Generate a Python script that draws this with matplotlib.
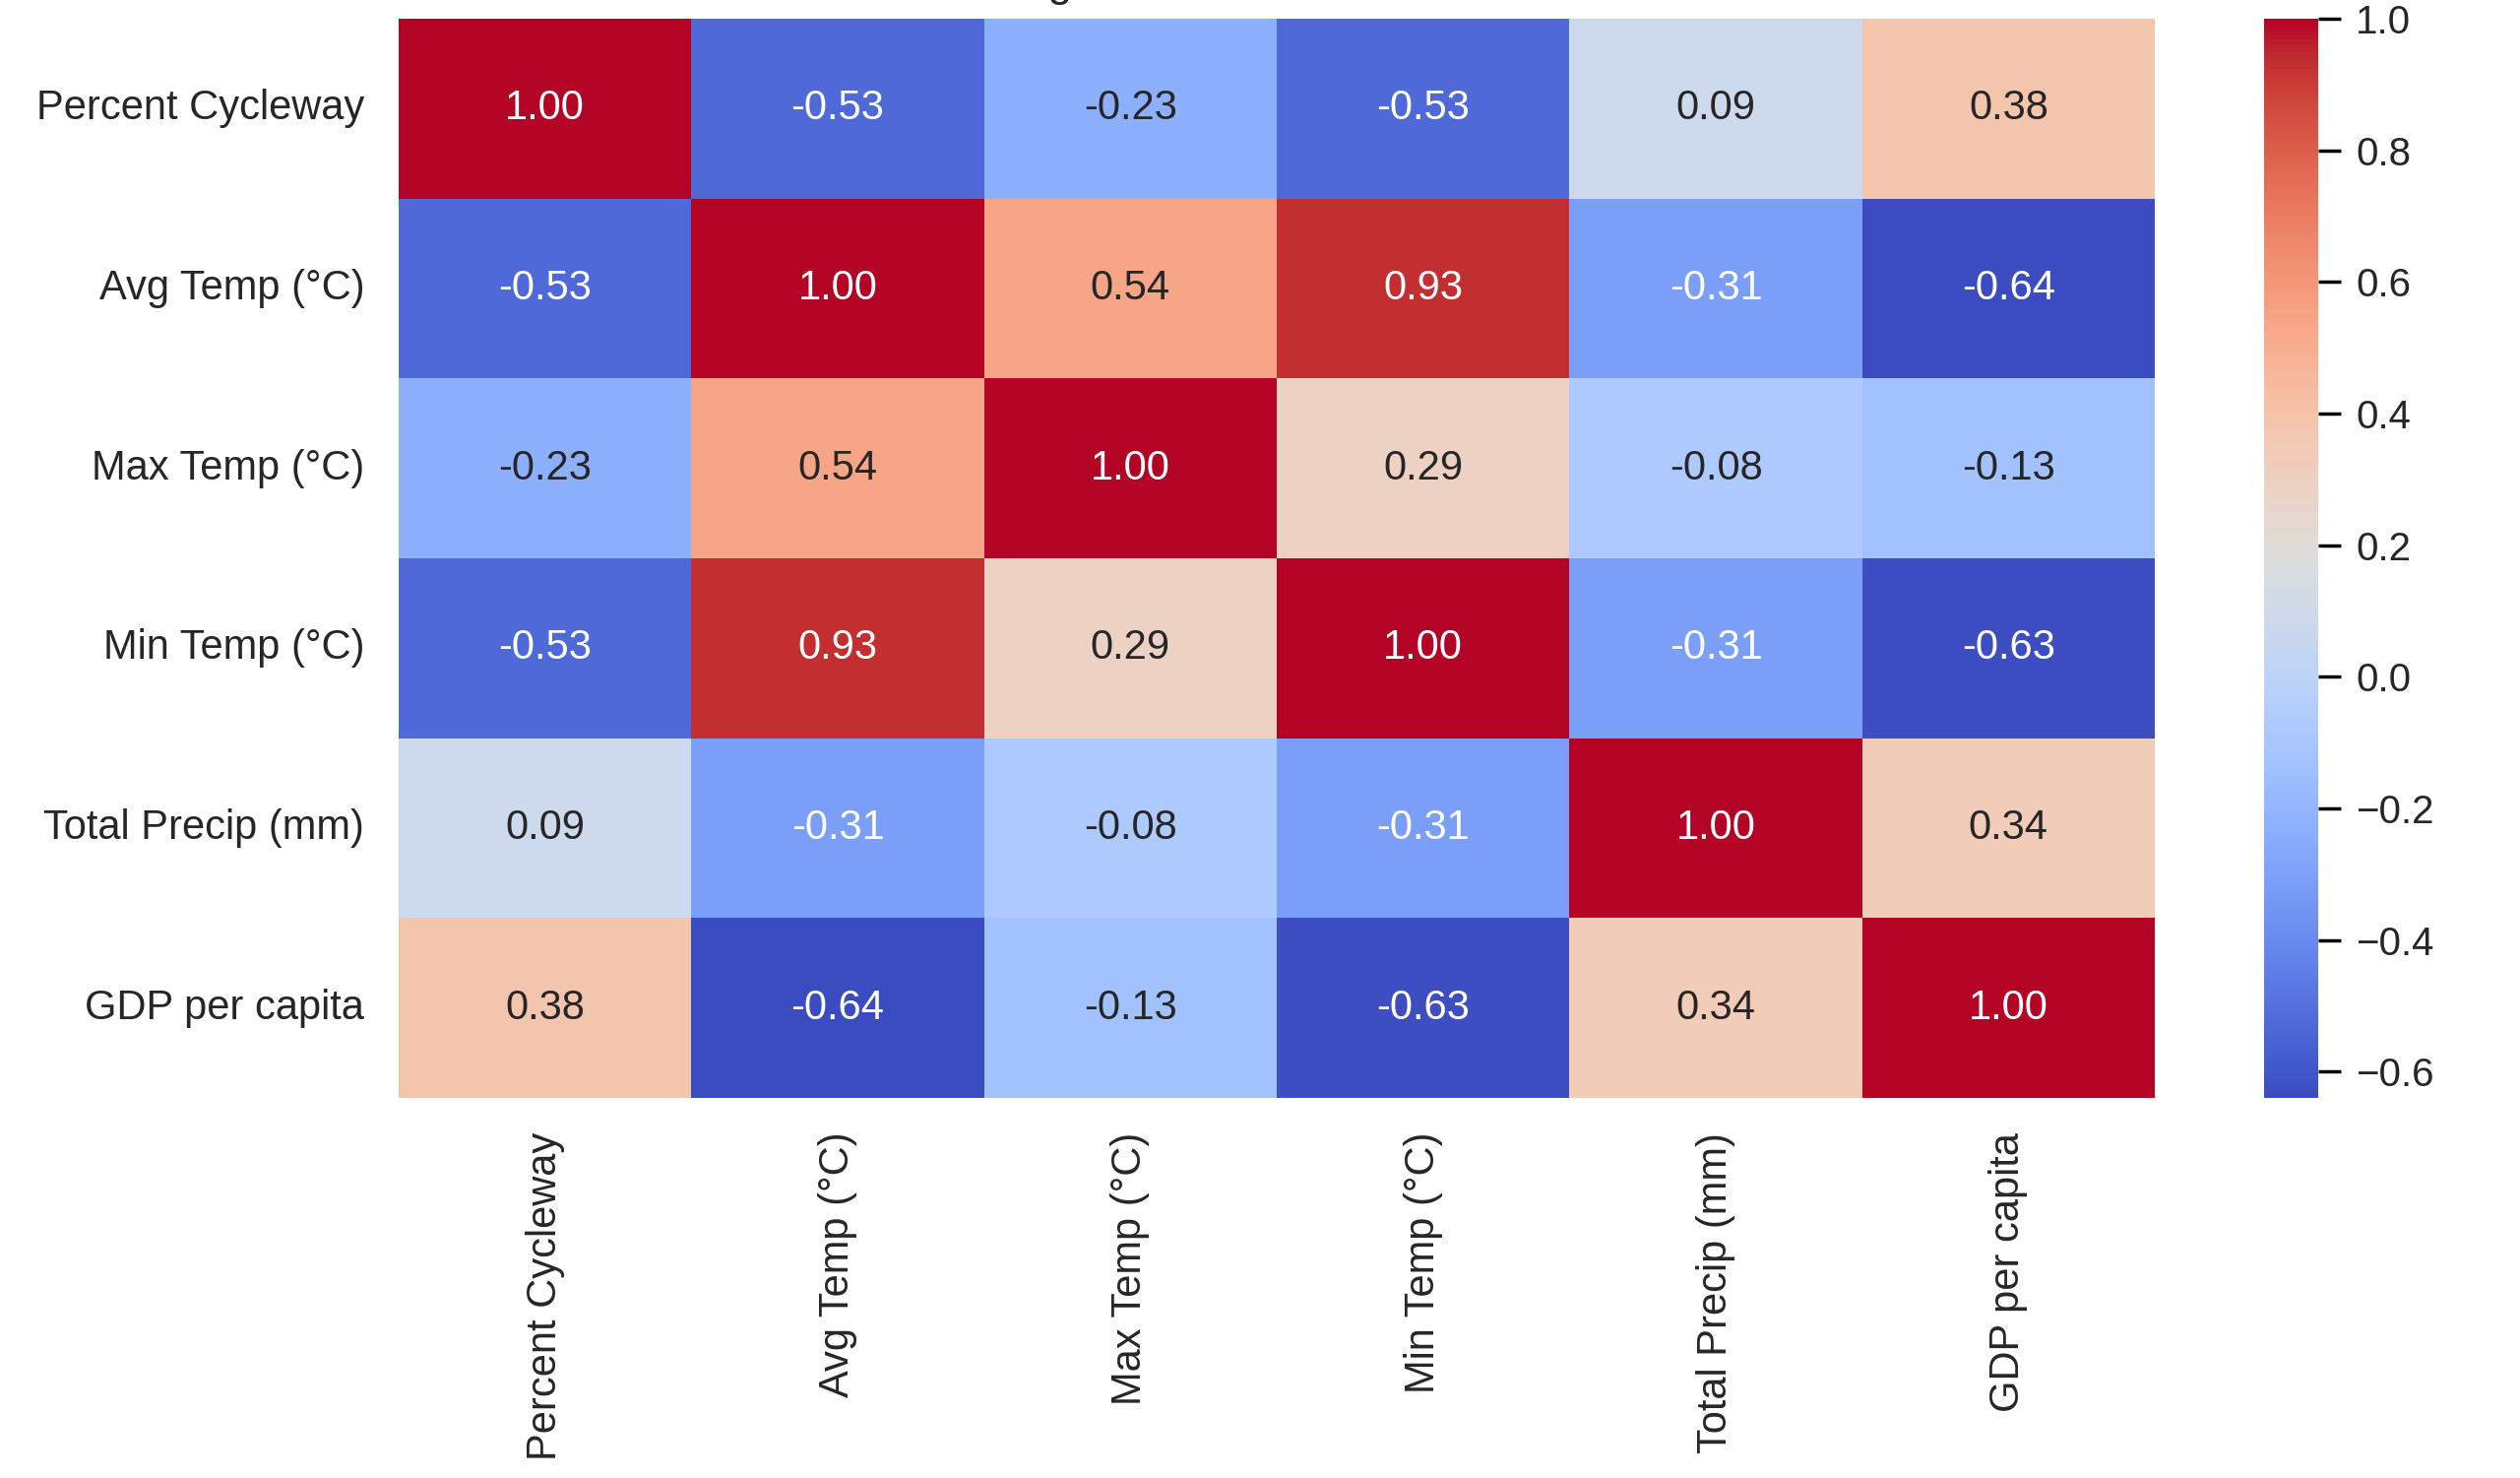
import numpy as np
import pandas as pd
import matplotlib.pyplot as plt
import seaborn as sns

###---correlation matrix---###
labels = ["Percent Cycleway", "Avg Temp (°C)", "Max Temp (°C)",
          "Min Temp (°C)", "Total Precip (mm)", "GDP per capita"]

row_cycleway = [1.00, -0.53, -0.23, -0.53, 0.09, 0.38]
row_avg = [-0.53, 1.00, 0.54, 0.93, -0.31, -0.64]
row_max = [-0.23, 0.54, 1.00, 0.29, -0.08, -0.13]
row_min = [-0.53, 0.93, 0.29, 1.00, -0.31, -0.63]
row_precip = [0.09, -0.31, -0.08, -0.31, 1.00, 0.34]
row_gdp = [0.38, -0.64, -0.13, -0.63, 0.34, 1.00]

corr = pd.DataFrame([row_cycleway, row_avg, row_max, row_min, row_precip, row_gdp],
                    index=labels, columns=labels)

sns.set_theme(style="white")
plt.rcParams['font.family'] = ['Liberation Sans', 'DejaVu Sans']

W, H = 2560, 1501
fig = plt.figure(figsize=(12.8, 7.505), dpi=200)
ax = fig.add_axes([405 / W, 1 - 1115 / H, 1784 / W, 1096 / H])
cax = fig.add_axes([2300 / W, 1 - 1115 / H, 55 / W, 1096 / H])

sns.heatmap(corr, annot=True, fmt=".2f", cmap="coolwarm", ax=ax, cbar_ax=cax,
            annot_kws={"fontsize": 15})

ax.tick_params(axis="both", length=0, pad=12.5, labelsize=15)
ax.set_yticklabels(labels, rotation=0)
ax.set_xticklabels(labels, rotation=90)

cax.tick_params(axis="y", right=True, length=8.3, width=1.25, pad=5.5,
                labelsize=14.5, color="black")

# title sits mostly above the saved area, as in the original crop
fig.text(0.5 * (405 + 2189) / W, 1 + 4 / H,
         "Correlation Among Bike Infrastructure and Climate Factors",
         ha="center", va="baseline", fontsize=16)

fig.savefig("out.png", dpi=200)
